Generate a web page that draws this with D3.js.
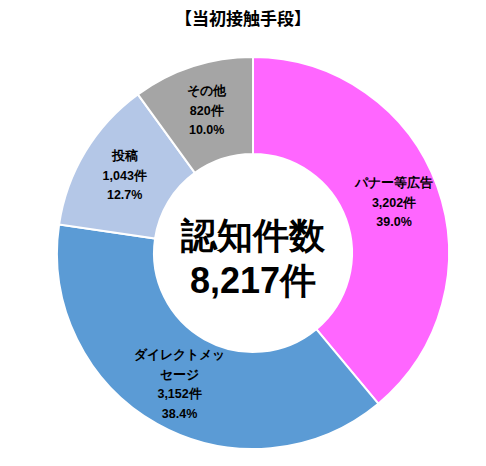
<!DOCTYPE html>
<html><head><meta charset="utf-8">
<script src="https://cdn.jsdelivr.net/npm/d3@7"></script>
<style>body{margin:0;background:#fff}</style></head>
<body><svg id="c" width="486" height="466"></svg>
<script>
const categories = [["パナー等広告"], ["ダイレクトメッ","セージ"], ["投稿"], ["その他"]];
const counts = ["3,202件", "3,152件", "1,043件", "820件"];
const percents = [39.0, 38.4, 12.7, 10.0];
const colors = ["#FF66FF", "#5B9BD5", "#B4C7E7", "#A5A5A5"];

const svg = d3.select("#c");
const cx = 253, cy = 253, R = 196, r = 99;
const font = "'Liberation Sans Narrow','Liberation Sans',sans-serif";
svg.append("text").attr("x", 243).attr("y", 25).attr("text-anchor", "middle")
  .attr("font-family", "'Noto Sans CJK JP',sans-serif").attr("font-weight", "bold").attr("font-size", 17)
  .text("【当初接触手段】");

const pie = d3.pie().sort(null).value(d => d)(percents);
const arc = d3.arc().innerRadius(r).outerRadius(R);
const labArc = d3.arc().innerRadius(150).outerRadius(150);
const g = svg.append("g").attr("transform", `translate(${cx},${cy})`);
g.selectAll("path").data(pie).join("path").attr("d", arc)
  .attr("fill", (d, i) => colors[i]).attr("stroke", "#fff").attr("stroke-width", 2);

pie.forEach((d, i) => {
  const [x, y] = labArc.centroid(d);
  const lines = [...categories[i], counts[i], percents[i].toFixed(1) + "%"];
  const t = g.append("text").attr("text-anchor", "middle").attr("font-family", font)
    .attr("font-weight", "bold").attr("font-size", 12.5).attr("fill", "#000");
  lines.forEach((s, k) => {
    t.append("tspan").attr("x", x).attr("y", y + (k - (lines.length - 1) / 2) * 19.5 + 4.5).text(s);
  });
});

g.append("text").attr("text-anchor", "middle").attr("y", -5).attr("font-family", font)
  .attr("font-weight", "bold").attr("font-size", 36).text("認知件数");
g.append("text").attr("text-anchor", "middle").attr("y", 40).attr("font-family", font)
  .attr("font-weight", "bold").attr("font-size", 36).text("8,217件");
</script></body></html>
